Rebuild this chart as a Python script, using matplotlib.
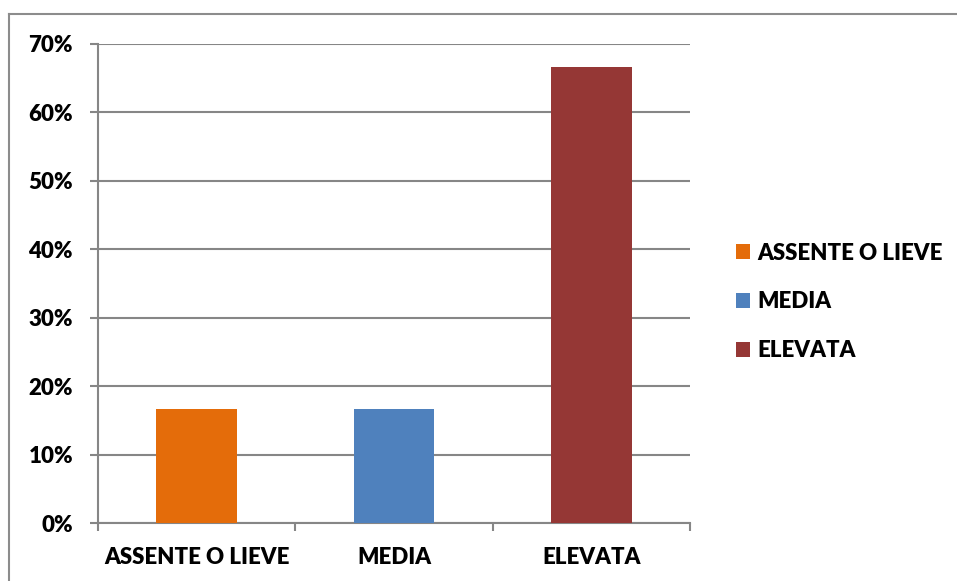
import matplotlib
matplotlib.use("Agg")
import matplotlib.pyplot as plt
from matplotlib.lines import Line2D
from matplotlib.ticker import FuncFormatter, FixedLocator
from matplotlib.patches import Patch

# share of cases per severity class
categories = ["ASSENTE O LIEVE", "MEDIA", "ELEVATA"]
values = [1 / 6, 1 / 6, 2 / 3]
colors = ["#E46C0A", "#4F81BD", "#953735"]

plt.rcParams["font.family"] = ["Lato", "DejaVu Sans"]
plt.rcParams["font.weight"] = "heavy"

fig = plt.figure(figsize=(9.57, 5.81), dpi=100)
ax = fig.add_axes([98 / 957, 1 - 523 / 581, (690 - 98) / 957, (523 - 44) / 581])

x = list(range(len(categories)))
ax.bar(x, values, width=0.41, color=colors, zorder=3)

ax.set_xlim(-0.5, 2.5)
ax.set_ylim(0, 0.7)
ax.set_yticks([i / 10 for i in range(8)])
ax.yaxis.set_major_formatter(FuncFormatter(lambda v, _: f"{v * 100:.0f}%"))
ax.grid(axis="y", color="#868686", linewidth=1.5, zorder=0)

ax.set_xticks(x)
ax.set_xticklabels(categories)
ax.xaxis.set_minor_locator(FixedLocator([-0.5, 0.5, 1.5, 2.5]))
ax.tick_params(axis="x", which="major", length=0, pad=17, labelsize=16)
ax.tick_params(axis="x", which="minor", length=6, width=1.5, color="#868686")
ax.tick_params(axis="y", length=6, width=1.5, color="#868686", pad=12, labelsize=16)

for side in ["top", "right"]:
    ax.spines[side].set_visible(False)
for side in ["left", "bottom"]:
    ax.spines[side].set_color("#868686")
    ax.spines[side].set_linewidth(1.5)

handles = [Patch(facecolor=c, label=l) for c, l in zip(colors, categories)]
fig.legend(handles=handles, loc="center left", bbox_to_anchor=(716 / 957, 1 - 302 / 581),
           frameon=False, fontsize=16, handlelength=0.65, handleheight=0.65,
           handletextpad=0.3, labelspacing=1.25)

# chart frame
frame_color = "#8C8C8C"
fig.add_artist(Line2D([9 / 957, 9 / 957], [0, 1 - 14 / 581], color=frame_color, linewidth=1.5))
fig.add_artist(Line2D([9 / 957, 1], [1 - 14 / 581, 1 - 14 / 581], color=frame_color, linewidth=1.5))

fig.savefig("out.png", dpi=100)
